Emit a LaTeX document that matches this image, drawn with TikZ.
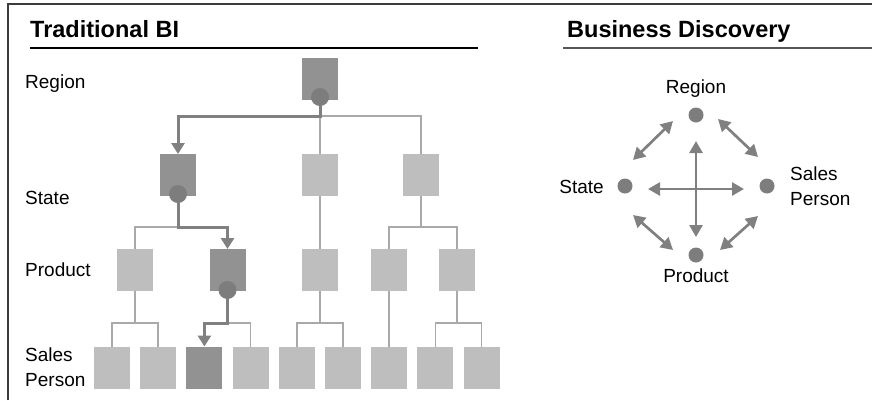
\documentclass[tikz,border=0pt]{standalone}
\usepackage{fontspec}
\setmainfont{Liberation Sans}
\usetikzlibrary{arrows.meta}
\definecolor{darkbox}{HTML}{929292}
\definecolor{lightbox}{HTML}{BEBEBE}
\definecolor{dotgray}{HTML}{7D7D7D}
\definecolor{thickgray}{HTML}{808080}
\definecolor{thingray}{HTML}{A9A9A9}
\definecolor{framegray}{HTML}{3C3C3C}
\definecolor{rulegray}{HTML}{555555}
\pgfdeclarelayer{bg}
\pgfsetlayers{bg,main}
\begin{document}
\begin{tikzpicture}[x=1pt,y=-1pt,
  box/.style={rectangle, minimum width=36pt, minimum height=42pt, inner sep=0pt, outer sep=0pt},
  lbox/.style={box, fill=lightbox},
  dbox/.style={box, fill=darkbox},
  knob/.style={circle, fill=dotgray, minimum size=18pt, inner sep=0pt},
  thinline/.style={draw=thingray, line width=1.5pt},
  thickline/.style={draw=thickgray, line width=3pt, -{Triangle[width=13pt,length=11pt]}},
  lbl/.style={font=\fontsize{19}{25}\selectfont, inner sep=0pt, text=black},
  title/.style={font=\fontsize{23.5}{28}\selectfont\bfseries, inner sep=0pt, anchor=base west},
  dot/.style={circle, fill=dotgray, minimum size=15pt, inner sep=0pt},
  biarrow/.style={draw=thickgray, line width=2.7pt, {Triangle[width=13pt,length=12pt]}-{Triangle[width=13pt,length=12pt]}}
]
\useasboundingbox (0,0) rectangle (872,400);
% frame
\draw[framegray, line width=1.5pt] (8,400) -- (8,4) -- (872,4);
% titles
\node[title] (t1) at (30,37) {Traditional BI};
\node[title] (t2) at (567,37) {Business Discovery};
\draw[black, line width=2pt] (30,48) -- (478,48);
\draw[rulegray, line width=2pt] (563,48) -- (872,48);
% left labels
\node[lbl, anchor=base west] (lR) at (25,88) {Region};
\node[lbl, anchor=base west] (lS) at (25,204) {State};
\node[lbl, anchor=base west] (lP) at (25,276) {Product};
\node[lbl, anchor=base west] (lSa) at (25,361) {Sales};
\node[lbl, anchor=base west] (lPe) at (25,386) {Person};
% tree boxes
\node[dbox] (r) at (320,79) {};
\node[dbox] (st1) at (178,175) {};
\node[lbox] (st2) at (320,175) {};
\node[lbox] (st3) at (421,175) {};
\node[lbox] (p1) at (135,270) {};
\node[dbox] (p2) at (227.5,270) {};
\node[lbox] (p3) at (320,270) {};
\node[lbox] (p4) at (389,270) {};
\node[lbox] (p5) at (457,270) {};
\node[lbox] (s1) at (112,367.5) {};
\node[lbox] (s2) at (158.2,367.5) {};
\node[dbox] (s3) at (204.4,367.5) {};
\node[lbox] (s4) at (250.6,367.5) {};
\node[lbox] (s5) at (296.8,367.5) {};
\node[lbox] (s6) at (343,367.5) {};
\node[lbox] (s7) at (389,367.5) {};
\node[lbox] (s8) at (435.4,367.5) {};
\node[lbox] (s9) at (481.6,367.5) {};
\node[knob] (rk) at (320,97) {};
\node[knob] (st1k) at (178,194) {};
\node[knob] (p2k) at (227.5,290) {};
\begin{pgfonlayer}{bg}
\draw[thinline] (r.south) -- (st2.north);
\draw[thinline] (r.south) -- ++(0,16) -| (st3.north);
\draw[thinline] (st2.south) -- (p3.north);
\draw[thinline] (st3.south) -- ++(0,31) -| (p4.north);
\draw[thinline] (st3.south) -- ++(0,31) -| (p5.north);
\draw[thinline] (st1.south) -- ++(0,31) -| (p1.north);
\draw[thinline] (p1.south) -- ++(0,32) -| (s1.north);
\draw[thinline] (p1.south) -- ++(0,32) -| (s2.north);
\draw[thinline] (p2.south) -- ++(0,32) -| (s4.north);
\draw[thinline] (p3.south) -- ++(0,32) -| (s5.north);
\draw[thinline] (p3.south) -- ++(0,32) -| (s6.north);
\draw[thinline] (p4.south) -- (s7.north);
\draw[thinline] (p5.south) -- ++(0,32) -| (s8.north);
\draw[thinline] (p5.south) -- ++(0,32) -| (s9.north);
\draw[thickline] (rk.center) -- ++(0,19) -| (st1.north);
\draw[thickline] (st1k.center) -- ++(0,33) -| (p2.north);
\draw[thickline] (p2k.center) -- ++(0,33) -| (s3.north);
\end{pgfonlayer}
% right panel
\node[dot] (dR) at (696,115) {};
\node[dot] (dS) at (625,186) {};
\node[dot] (dSP) at (767,186) {};
\node[dot] (dP) at (696,255) {};
\node[lbl, anchor=base] (rR) at (696,93) {Region};
\node[lbl, anchor=base east] (rS) at (604,193) {State};
\node[lbl, anchor=base west] (rSa) at (790,180) {Sales};
\node[lbl, anchor=base west] (rPe) at (790,205) {Person};
\node[lbl, anchor=base] (rP) at (696,282) {Product};
\coordinate (h1) at (648,189);
\coordinate (h2) at (744,189);
\coordinate (v1) at (696,141);
\coordinate (v2) at (696,237);
\coordinate (ul1) at (633,160);
\coordinate (ul2) at (673,121);
\coordinate (ur1) at (718,119);
\coordinate (ur2) at (758,157);
\coordinate (ll1) at (633,215);
\coordinate (ll2) at (673,250);
\coordinate (lr1) at (720,250);
\coordinate (lr2) at (758,216);
\draw[biarrow] (h1) -- (h2);
\draw[biarrow] (v1) -- (v2);
\draw[biarrow] (ul1) -- (ul2);
\draw[biarrow] (ur1) -- (ur2);
\draw[biarrow] (ll1) -- (ll2);
\draw[biarrow] (lr1) -- (lr2);
\end{tikzpicture}
\end{document}
